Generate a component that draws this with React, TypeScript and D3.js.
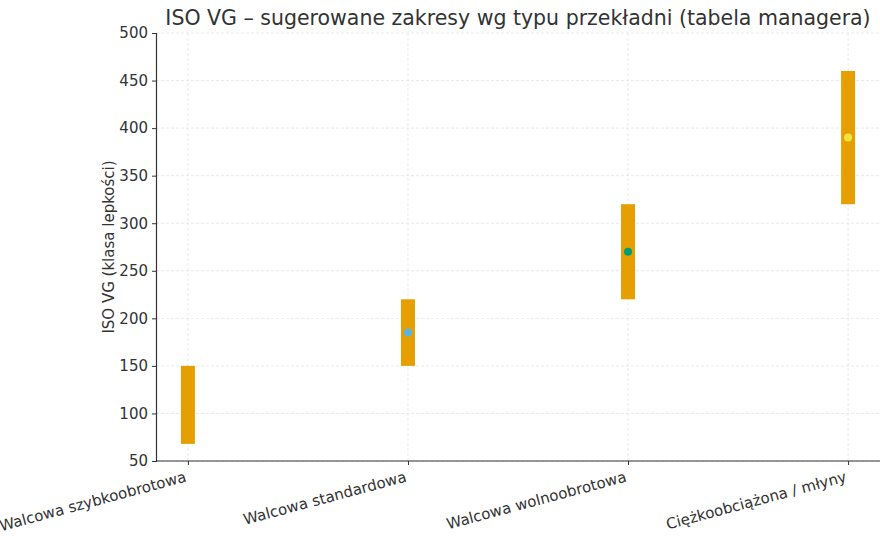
import { useEffect, useRef } from 'react';
import * as d3 from 'd3';

const categories = [
  'Walcowa szybkoobrotowa',
  'Walcowa standardowa',
  'Walcowa wolnoobrotowa',
  'Ciężkoobciążona / młyny',
];
const minVG = [68, 150, 220, 320];
const maxVG = [150, 220, 320, 460];
const dotColors = ['#E69F00', '#56B4E9', '#009E73', '#F0E442'];
const yTicks = [50, 100, 150, 200, 250, 300, 350, 400, 450, 500];

const W = 880;
const H = 540;
const FONT = 'DejaVu Sans, sans-serif';

export default function App() {
  const svgRef = useRef<SVGSVGElement>(null);

  useEffect(() => {
    if (!svgRef.current) return;
    const svg = d3.select(svgRef.current);
    svg.selectAll('*').remove();

    const left = 156;
    const right = 880;
    const top = 33;
    const bottom = 461;

    const x = d3.scaleLinear().domain([-0.145, 3.145]).range([left, right]);
    const y = d3.scaleLinear().domain([50, 500]).range([bottom, top]);

    // grid
    const grid = svg.append('g').attr('stroke', '#e3e3e3').attr('stroke-width', 0.8).attr('stroke-dasharray', '3,2');
    yTicks.forEach(t => {
      grid.append('line').attr('x1', left).attr('x2', right).attr('y1', y(t)).attr('y2', y(t));
    });
    categories.forEach((_, i) => {
      grid.append('line').attr('x1', x(i)).attr('x2', x(i)).attr('y1', top).attr('y2', bottom);
    });

    // range bars
    const barW = 14;
    svg.append('g')
      .selectAll('rect')
      .data(categories)
      .enter()
      .append('rect')
      .attr('x', (_, i) => x(i) - barW / 2)
      .attr('width', barW)
      .attr('y', (_, i) => y(maxVG[i]))
      .attr('height', (_, i) => y(minVG[i]) - y(maxVG[i]))
      .attr('fill', '#E69F00');

    // midpoints
    svg.append('g')
      .selectAll('circle')
      .data(categories)
      .enter()
      .append('circle')
      .attr('cx', (_, i) => x(i))
      .attr('cy', (_, i) => y((minVG[i] + maxVG[i]) / 2))
      .attr('r', 4)
      .attr('fill', (_, i) => dotColors[i]);

    // y axis
    const yAxis = svg.append('g')
      .attr('transform', `translate(${left},0)`)
      .call(d3.axisLeft(y).tickValues(yTicks).tickSize(4).tickPadding(4));
    yAxis.select('.domain').attr('stroke', '#333').attr('stroke-width', 1.2);
    yAxis.selectAll('.tick line').attr('stroke', '#333');
    yAxis.selectAll('.tick text').attr('fill', '#333').style('font-family', FONT).style('font-size', '15px');

    // x axis
    const xAxis = svg.append('g')
      .attr('transform', `translate(0,${bottom})`)
      .call(d3.axisBottom(x).tickValues(d3.range(categories.length)).tickSize(4).tickFormat(() => ''));
    xAxis.select('.domain').attr('d', `M${left},0H${right}`).attr('stroke', '#333').attr('stroke-width', 1.2);
    xAxis.selectAll('.tick line').attr('stroke', '#333');

    svg.append('g')
      .selectAll('text')
      .data(categories)
      .enter()
      .append('text')
      .attr('transform', (_, i) => `translate(${x(i) - 4},${bottom + 8}) rotate(-15)`)
      .attr('text-anchor', 'end')
      .attr('dy', '0.85em')
      .attr('fill', '#333')
      .style('font-family', FONT)
      .style('font-size', '15px')
      .text(d => d);

    // y label
    svg.append('text')
      .attr('transform', `translate(114,${(top + bottom) / 2}) rotate(-90)`)
      .attr('text-anchor', 'middle')
      .attr('fill', '#333')
      .style('font-family', FONT)
      .style('font-size', '15px')
      .text('ISO VG (klasa lepkości)');

    // title
    svg.append('text')
      .attr('x', (left + right) / 2)
      .attr('y', 25)
      .attr('text-anchor', 'middle')
      .attr('fill', '#333')
      .style('font-family', FONT)
      .style('font-size', '20.5px')
      .text('ISO VG – sugerowane zakresy wg typu przekładni (tabela managera)');
  }, []);

  return (
    <svg
      ref={svgRef}
      width={W}
      height={H}
      style={{ position: 'absolute', left: 0, top: 0, background: '#fff' }}
    />
  );
}
